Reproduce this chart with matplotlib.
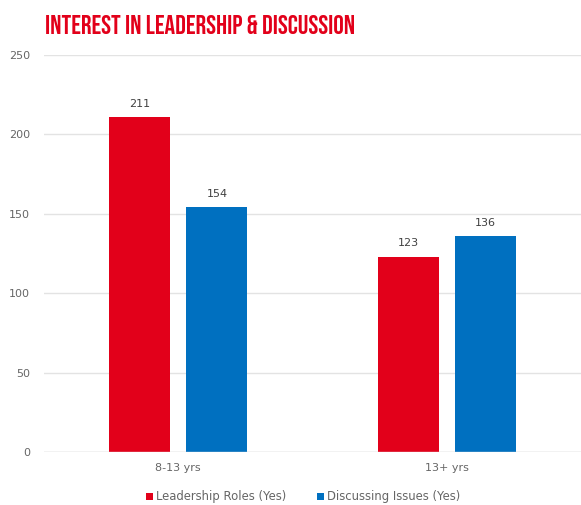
import matplotlib
matplotlib.use("Agg")
import matplotlib.pyplot as plt
import numpy as np
from matplotlib import font_manager

categories = ["8-13 yrs", "13+ yrs"]
leadership_roles = [211, 123]
discussing_issues = [154, 136]
series_names = ["Leadership Roles (Yes)", "Discussing Issues (Yes)"]
y_ticks = [0, 50, 100, 150, 200, 250]

RED = "#E2001A"
BLUE = "#0070C0"
GRID = "#E3E3E3"
TICK = "#666666"

# pick a condensed display face for the heading
names = {f.name for f in font_manager.fontManager.ttflist}
candidates = ["Bebas Neue", "Anton", "Oswald", "Fjalla One", "League Gothic",
              "Roboto Condensed", "Barlow Condensed", "Archivo Narrow", "DejaVu Sans"]
title_family = next(c for c in candidates if c in names)

fig = plt.figure(figsize=(5.81, 5.05), dpi=100)
ax = fig.add_axes([0.0757, 0.105, 0.9243, 0.786])

x = np.arange(len(categories))
w = 0.227
off = 0.144
b1 = ax.bar(x - off, leadership_roles, w, color=RED, label=series_names[0], zorder=3)
b2 = ax.bar(x + off, discussing_issues, w, color=BLUE, label=series_names[1], zorder=3)

for bars, vals in ((b1, leadership_roles), (b2, discussing_issues)):
    for rect, v in zip(bars, vals):
        ax.annotate(str(v), (rect.get_x() + rect.get_width() / 2, v),
                    xytext=(0, 6), textcoords="offset points",
                    ha="center", va="bottom", fontsize=8, color="#404040")

ax.set_xlim(-0.5, 1.5)
ax.set_ylim(0, 250)
ax.set_yticks(y_ticks)
ax.set_xticks(x)
ax.set_xticklabels(categories)
ax.tick_params(axis="both", length=0, labelsize=8, colors=TICK)
ax.tick_params(axis="y", pad=10)
ax.tick_params(axis="x", pad=8)
ax.yaxis.grid(True, color=GRID, linewidth=1, zorder=0)
for s in ax.spines.values():
    s.set_visible(False)
ax.axhline(0, color="#D9D9D9", linewidth=1, zorder=4)

leg = fig.legend(handles=[b1, b2], labels=series_names, loc="center",
                 bbox_to_anchor=(0.522, 0.016), ncol=2, frameon=False,
                 fontsize=8.4, handlelength=0.6, handleheight=0.6,
                 handletextpad=0.3, columnspacing=2.6)
for t in leg.get_texts():
    t.set_color(TICK)

fig.text(0.078, 0.951, "INTEREST IN LEADERSHIP & DISCUSSION", color=RED,
         fontsize=19, family=title_family, ha="left", va="center")

fig.savefig("out.png", dpi=100)
